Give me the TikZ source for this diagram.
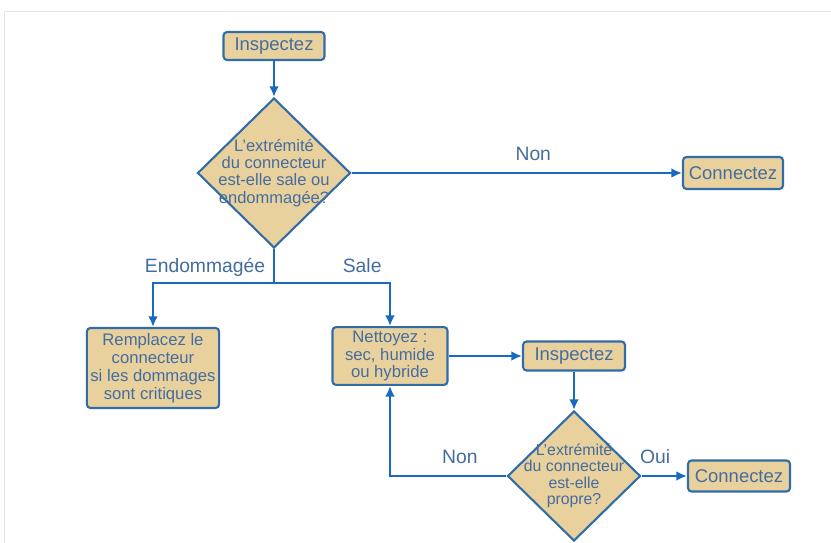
\documentclass[tikz,border=0pt]{standalone}
\usepackage{fontspec}
\setmainfont{Liberation Sans}
\usetikzlibrary{shapes.geometric,arrows.meta}

\definecolor{boxfill}{RGB}{233,209,158}
\definecolor{boxline}{RGB}{50,108,168}
\definecolor{flowblue}{RGB}{25,105,190}
\definecolor{inkblue}{RGB}{68,108,158}

\begin{document}
\begin{tikzpicture}[>={Latex[length=6pt,width=5.5pt]}, x=0.02cm, y=-0.02cm,
	act/.style={draw=boxline, fill=boxfill, line width=1.2pt, rounded corners=2pt,
		text=inkblue, align=center, inner sep=2pt, font=\fontsize{10.5}{11}\selectfont},
	ask/.style={diamond, aspect=1, draw=boxline, fill=boxfill, line width=1.2pt,
		text=inkblue, align=center, inner sep=-5pt, font=\fontsize{9.4}{9.8}\selectfont},
	flow/.style={draw=flowblue, line width=1.6pt},
	lbl/.style={text=inkblue, text depth=0pt, font=\fontsize{11}{12}\selectfont}]

	\useasboundingbox (0,0) rectangle (831,543);
	\draw [gray!20] (4,543) -- (4,11) -- (831,11);

	% first pass
	\node [act, minimum width=2.02cm, minimum height=0.56cm] (insp) at (274,46) {Inspectez};
	\node [ask, minimum width=3.06cm, minimum height=3cm] (dirty) at (274,173)
		{L'extrémité\\du connecteur\\est-elle sale ou\\endommagée?};
	\node [act, minimum width=2cm, minimum height=0.64cm] (conn) at (733,173) {Connectez};
	\node [act, minimum width=2.56cm, minimum height=1.6cm, font=\fontsize{9.5}{10.2}\selectfont]
		(repl) at (153,368) {Remplacez le\\connecteur\\si les dommages\\sont critiques};
	\node [act, minimum width=2.3cm, minimum height=1.14cm, font=\fontsize{9.5}{10.2}\selectfont]
		(clean) at (390,356) {Nettoyez :\\sec, humide\\ou hybride};
	\coordinate (split) at (274,283);

	% second pass
	\node [act, minimum width=2.04cm, minimum height=0.58cm] (insp2) at (574,356) {Inspectez};
	\node [ask, minimum width=2.66cm, minimum height=2.6cm, inner sep=-6.5pt,
		font=\fontsize{9}{9.4}\selectfont] (proper) at (574,476)
		{L'extrémité\\du connecteur\\est-elle\\propre?};
	\node [act, minimum width=2.04cm, minimum height=0.62cm] (conn2) at (739,476) {Connectez};

	\draw [flow,->] (insp) -- (dirty);
	\draw [flow,->] (dirty) -- node [lbl, above=3pt, pos=0.55] {Non} (conn);
	\draw [flow] (dirty) -- (split);
	\draw [flow,->] (split) -| node [lbl, above=2pt, pos=0.285] {Endommagée} (repl);
	\draw [flow,->] (split) -| node [lbl, above=2pt, pos=0.38] {Sale} (clean);
	\draw [flow,->] (clean) -- (insp2);
	\draw [flow,->] (insp2) -- (proper);
	\draw [flow,->] (proper) -- node [lbl, above=3pt, pos=0.3] {Oui} (conn2);
	\draw [flow,->] (proper) -| node [lbl, above=3pt, pos=0.2] {Non} (clean);

\end{tikzpicture}
\end{document}
